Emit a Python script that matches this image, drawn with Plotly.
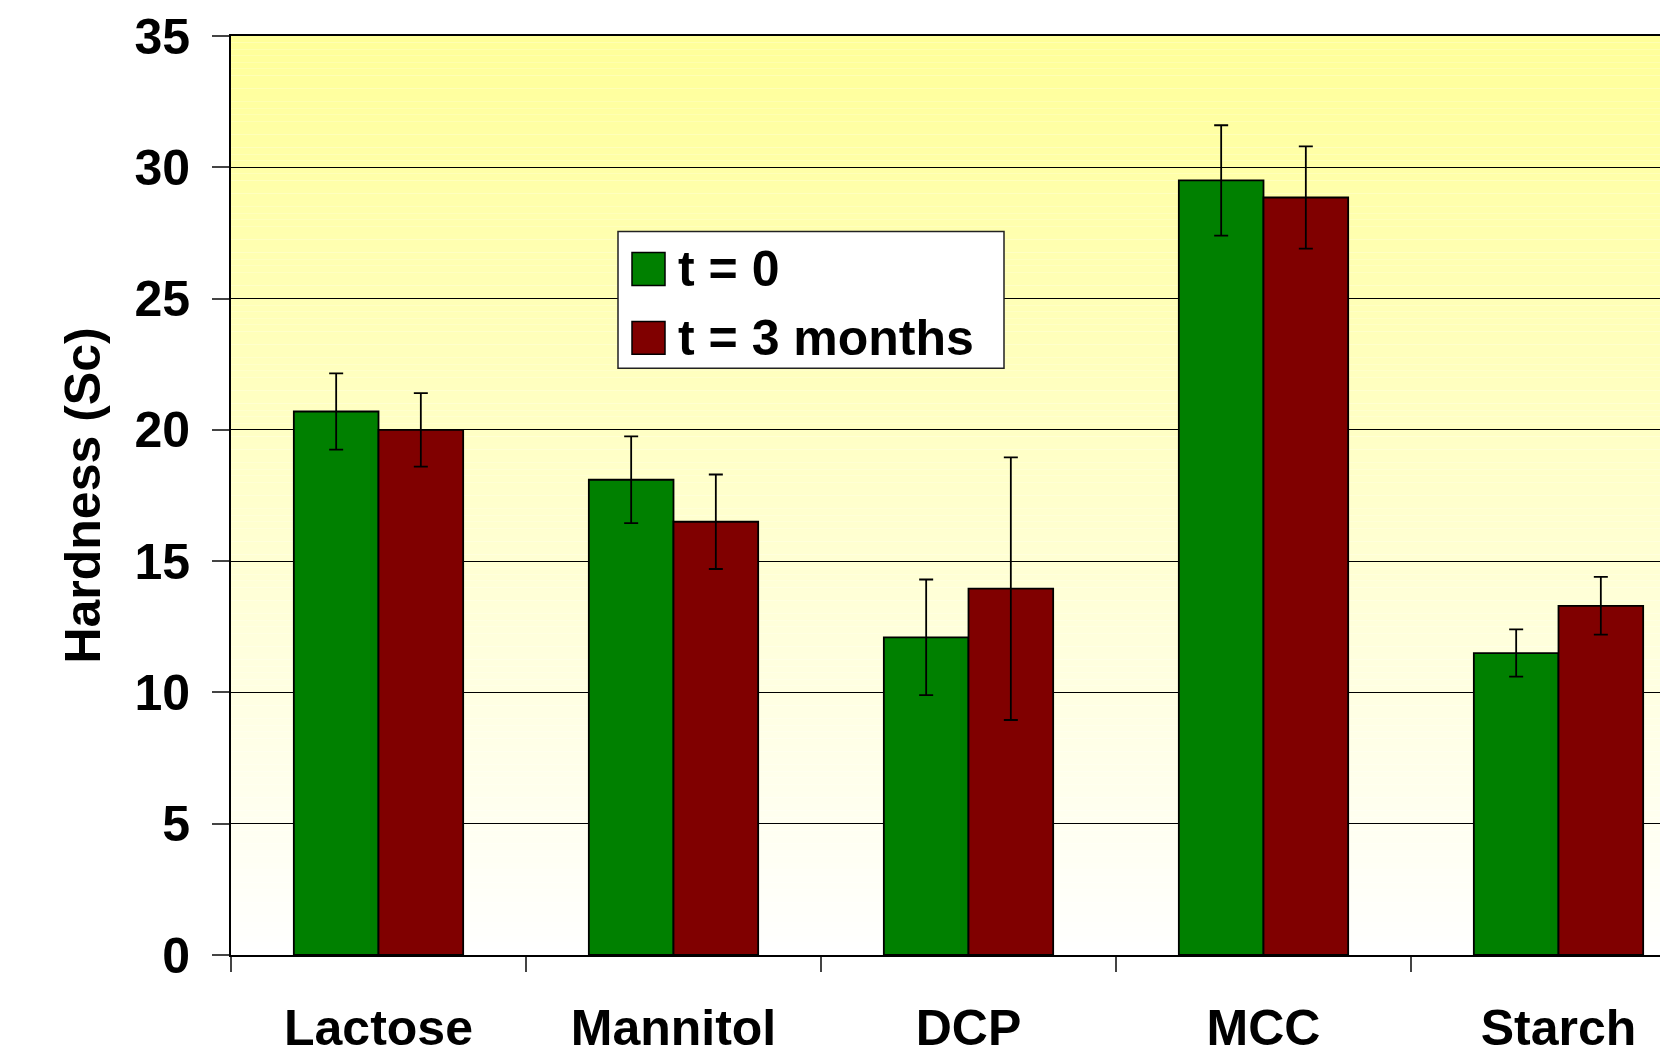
import plotly.graph_objects as go

categories = ['Lactose', 'Mannitol', 'DCP', 'MCC', 'Starch']
series_names = ['t = 0', 't = 3 months']
hardness_t0 = [20.7, 18.1, 12.1, 29.5, 11.5]
err_t0 = [1.45, 1.65, 2.2, 2.1, 0.9]
hardness_t3 = [20.0, 16.5, 13.95, 28.85, 13.3]
err_t3 = [1.4, 1.8, 5.0, 1.95, 1.1]
y_ticks = [0, 5, 10, 15, 20, 25, 30, 35]

colors = ['#008000', '#800000']

OFF = 8  # page body margin
W, H = 1668 - OFF, 1064 - 2 * OFF  # keep page free of scrollbars
L, R, T, B = 231 - OFF, 0, 36 - OFF, H - (957 - OFF)
plot_w = W - L - R
plot_h = H - T - B
cat_px = 295


# page pixel -> paper fraction
def px(x):
    return (x - OFF - L) / plot_w


def py(y):
    return (H - B - (y - OFF)) / plot_h


fig = go.Figure()
for name, vals, errs, col in [(series_names[0], hardness_t0, err_t0, colors[0]),
                              (series_names[1], hardness_t3, err_t3, colors[1])]:
    fig.add_trace(go.Bar(
        x=categories, y=vals, name=name,
        marker=dict(color=col, line=dict(color='black', width=1.8)),
        error_y=dict(type='data', array=errs, color='black', thickness=1.8, width=7),
    ))

# yellow-to-white background gradient
n_bands = 140
top = max(y_ticks)
for i in range(n_bands):
    f = (i + 0.5) / n_bands
    b = int(round(255 - 102 * f))
    fig.add_shape(type='rect', xref='x domain', yref='y',
                  x0=0, x1=1, y0=top * i / n_bands, y1=top * (i + 1) / n_bands,
                  fillcolor=f'rgb(255,255,{b})', line=dict(width=0), layer='below')

# legend box
fig.add_shape(type='rect', xref='paper', yref='paper',
              x0=px(618), x1=px(1004), y0=py(369), y1=py(232),
              fillcolor='white', line=dict(color='#222', width=1.5), layer='above')
for i, (name, col) in enumerate(zip(series_names, colors)):
    y0 = 253 + i * 69
    fig.add_shape(type='rect', xref='paper', yref='paper',
                  x0=px(632), x1=px(665), y0=py(y0 + 33), y1=py(y0),
                  fillcolor=col, line=dict(color='black', width=1.5), layer='above')
    fig.add_annotation(xref='paper', yref='paper', x=px(676), y=py(y0 + 17),
                       text=name, showarrow=False, xanchor='left', yanchor='middle',
                       font=dict(family='Liberation Sans, Arial', size=50, color='black', weight='bold'))

fig.update_layout(
    width=W, height=H,
    barmode='group', bargap=0.426, bargroupgap=0,
    showlegend=False,
    paper_bgcolor='white', plot_bgcolor='white',
    margin=dict(l=L, r=R, t=T, b=B, pad=0),
    font=dict(family='Liberation Sans, Arial', size=50, color='black', weight='bold'),
    xaxis=dict(
        type='category', range=[-0.5, -0.5 + plot_w / cat_px],
        tickson='boundaries', ticks='outside', ticklen=15, tickwidth=1.5, tickcolor='#444',
        showgrid=False, showline=True, linecolor='black', linewidth=2, mirror=True,
        ticklabelstandoff=28,
        tickfont=dict(size=50),
    ),
    yaxis=dict(
        range=[0, 35], tickvals=y_ticks, ticks='outside', ticklen=17, tickwidth=1.5, tickcolor='#444',
        showgrid=True, gridcolor='black', gridwidth=1,
        showline=True, linecolor='black', linewidth=2, zeroline=False,
        ticklabelstandoff=12,
        tickfont=dict(size=50),
        title=dict(text='Hardness (Sc)', font=dict(size=50), standoff=18),
    ),
)

fig.write_html('out.html', default_width=f'{W}px', default_height=f'{H}px')
